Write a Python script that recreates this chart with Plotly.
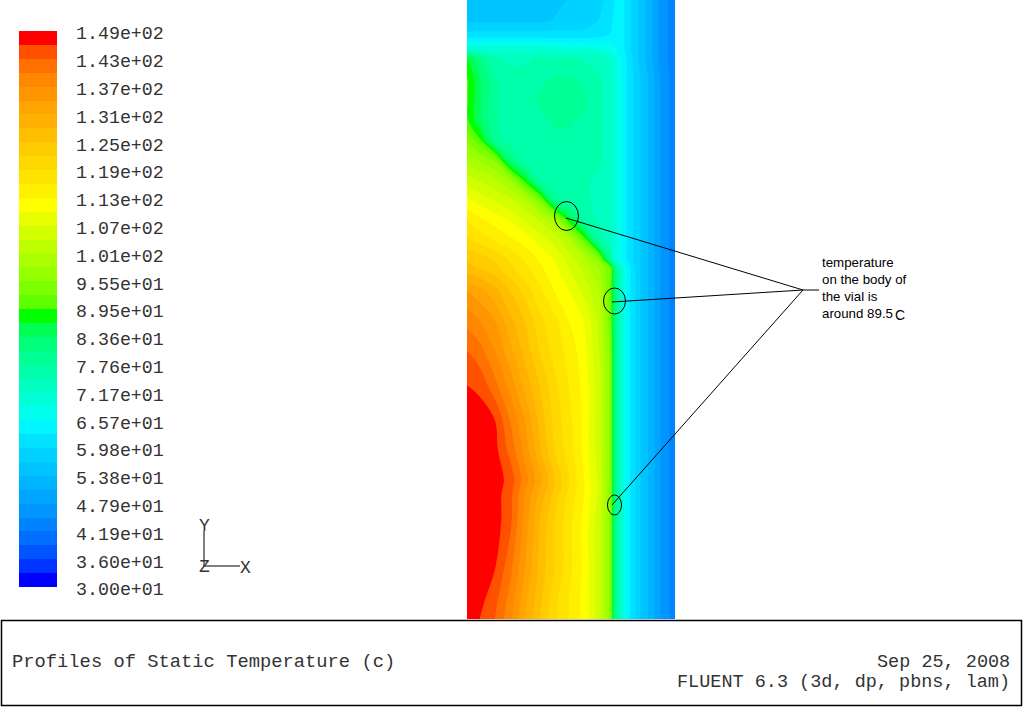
import plotly.graph_objects as go

# Colour bands of the legend, bottom (coolest) to top (hottest)
BAND_COLORS = [
    "#0000ff", "#0033ff", "#0055ff", "#006fff", "#0083ff", "#0095ff", "#00a5ff", "#00b5ff",
    "#00c4ff", "#00d3ff", "#00e2ff", "#00f5ff", "#00ffec", "#00ffd6", "#00ffc0", "#00ffaa",
    "#00ff94", "#00ff7a", "#00ff55", "#00ff00", "#60ff00", "#7cff00", "#96ff00", "#aaff00",
    "#beff00", "#d2ff00", "#e8ff00", "#ffff00", "#fff000", "#ffe400", "#ffd800", "#ffcc00",
    "#ffbe00", "#ffb000", "#ffa400", "#ff9600", "#ff8800", "#ff7000", "#ff5000", "#ff0000",
]
LEGEND_VALUES = [149, 143.05, 137.1, 131.15, 125.2, 119.25, 113.3, 107.35, 101.4, 95.45, 89.5, 83.55,
                 77.6, 71.65, 65.7, 59.75, 53.8, 47.85, 41.9, 35.95, 30.0]
LEGEND_LABELS = ["1.49e+02", "1.43e+02", "1.37e+02", "1.31e+02", "1.25e+02", "1.19e+02", "1.13e+02",
                 "1.07e+02", "1.01e+02", "9.55e+01", "8.95e+01", "8.36e+01", "7.76e+01", "7.17e+01",
                 "6.57e+01", "5.98e+01", "5.38e+01", "4.79e+01", "4.19e+01", "3.60e+01", "3.00e+01"]
T_MIN, T_MAX = 30.0, 149.0

# Temperature field, on a coarse grid
FIELD_X = [467, 480, 495, 510, 525, 540, 555, 570, 585, 600, 611, 613, 620, 628, 640, 650, 660, 675]
FIELD_Y = [0, 20, 35, 42, 50, 58, 80, 100, 120, 140, 160, 180, 200, 220, 240, 260, 268, 290, 320,
           350, 385, 420, 450, 480, 495, 520, 570, 600, 619]
FIELD_T = [
    [55, 55, 55, 55, 56, 56, 56, 57, 58, 59, 61, 62, 65, 61, 56, 52, 47, 43],
    [56, 56, 56, 56, 56, 56, 57, 57, 58, 60, 62, 63, 65, 61, 56, 52, 47, 43],
    [61, 61, 61, 61, 61, 61, 61, 61, 61, 62, 63, 64, 65, 61, 56, 52, 47, 43],
    [66, 66, 66, 66, 66, 66, 65, 65, 65, 65, 65, 65, 65, 61, 56, 52, 47, 43],
    [72, 71, 71, 71, 71, 71, 71, 70, 70, 69, 68, 67, 65, 61, 56, 52, 47, 43],
    [87, 80, 75, 74, 74, 75, 75, 75, 74, 73, 71, 70, 66, 62, 56, 52, 47, 43],
    [90, 84, 78, 76, 76, 77, 78, 78, 77, 75, 72, 71, 67, 62, 57, 53, 48, 43],
    [90, 84, 78, 76, 76, 78, 79, 79, 78, 75, 72, 71, 67, 62, 57, 53, 48, 43],
    [90, 84, 78, 76, 76, 77, 78, 78, 77, 75, 72, 71, 67, 62, 57, 53, 48, 43],
    [95, 90, 79, 76, 75, 76, 77, 77, 76, 75, 72, 71, 67, 62, 57, 53, 48, 43],
    [100, 98, 95, 82, 76, 75, 76, 76, 76, 75, 72, 71, 67, 62, 57, 53, 48, 43],
    [106, 104, 102, 98, 88, 77, 75, 75, 75, 74, 72, 71, 67, 62, 57, 53, 48, 43],
    [111, 109, 107, 105, 102, 94, 79, 75, 75, 74, 72, 71, 67, 62, 57, 53, 48, 43],
    [116, 114, 112, 110, 107, 104, 99, 87, 76, 74, 72, 71, 67, 62, 57, 53, 48, 43],
    [120, 118, 116, 114, 112, 109, 106, 101, 91, 76, 73, 71, 67, 62, 57, 53, 48, 43],
    [125, 124, 122, 119, 116, 113, 110, 106, 102, 95, 79, 71, 67, 62, 57, 53, 48, 43],
    [126, 125, 123, 120, 117, 114, 111, 107, 103, 98, 92, 85, 73, 64, 57, 53, 48, 43],
    [134, 132, 129, 125, 121, 117, 113, 110, 106, 101, 91, 85, 73, 64, 57, 53, 48, 43],
    [139, 137, 134, 129, 125, 120, 117, 113, 110, 103, 92, 85, 73, 64, 57, 53, 48, 43],
    [143, 141, 137, 132, 127, 122, 118, 115, 111, 104, 94, 85, 73, 64, 57, 53, 48, 43],
    [146, 145, 141, 136, 130, 125, 120, 116, 112, 105, 94, 85, 73, 64, 57, 53, 48, 43],
    [149, 148, 146, 140, 134, 127, 121, 117, 112, 105, 94, 85, 73, 64, 57, 53, 48, 43],
    [149, 149, 147, 142, 136, 128.5, 122, 117.5, 112, 105, 94, 85, 73, 64, 57, 53, 48, 43],
    [149, 149, 147.5, 145, 138.5, 132, 125, 119, 113, 106, 94, 85, 73, 64, 57, 53, 48, 43],
    [149, 149, 147.5, 144, 137, 130, 124, 118, 113, 106, 94, 85, 73, 64, 57, 53, 48, 43],
    [149, 149, 147.5, 144, 136, 128, 122, 117, 112, 105, 94, 85, 73, 64, 57, 53, 48, 43],
    [149, 149, 146, 141, 134, 127, 122, 117, 112, 105, 94, 85, 73, 64, 57, 53, 48, 43],
    [149, 147, 144, 139, 132, 126, 120, 116, 112, 105, 94, 85, 73, 64, 57, 53, 48, 43],
    [147, 146, 143, 138, 131, 125, 120, 116, 112, 105, 94, 85, 73, 64, 57, 53, 48, 43],
]

TITLE_LEFT = "Profiles of Static Temperature (c)"
DATE_TEXT = "Sep 25, 2008"
SOLVER_TEXT = "FLUENT 6.3 (3d, dp, pbns, lam)"
NOTE_LINES = ["temperature", "on the body of", "the vial is", "around 89.5"]

W, H = 1023, 707
N = len(BAND_COLORS)
STEP = (T_MAX - T_MIN) / N
BAND_MIDS = [T_MIN + (i + 0.5) * STEP for i in range(N)]

stepped = []
for i, c in enumerate(BAND_COLORS):
    stepped.append([i / N, c])
    stepped.append([(i + 1) / N, c])

MONO = "Liberation Mono"
INK = "#333333"

fig = go.Figure()
fig.add_trace(go.Contour(
    x=FIELD_X, y=FIELD_Y, z=FIELD_T,
    colorscale=stepped, zmin=T_MIN, zmax=T_MAX,
    autocontour=False,
    contours=dict(coloring="fill", start=T_MIN + STEP, end=T_MAX - STEP, size=STEP, showlines=False),
    line=dict(width=0), showscale=False, hoverinfo="skip",
))
fig.add_trace(go.Heatmap(
    x=[0], y=BAND_MIDS, z=[[m] for m in BAND_MIDS],
    colorscale=stepped, zmin=T_MIN, zmax=T_MAX, showscale=False,
    xaxis="x2", yaxis="y2", hoverinfo="skip",
))
# Invisible carrier so the legend label axis draws its labels
fig.add_trace(go.Scatter(
    x=[0] * len(LEGEND_VALUES), y=LEGEND_VALUES, mode="markers", marker=dict(opacity=0),
    xaxis="x2", yaxis="y3", hoverinfo="skip", showlegend=False,
))


def line(x0, y0, x1, y1, w=1.0, color="#000000"):
    return dict(type="line", xref="x", yref="y", x0=x0, y0=y0, x1=x1, y1=y1,
                line=dict(color=color, width=w), layer="above")


def ring(cx, cy, rx, ry):
    return dict(type="circle", xref="x", yref="y", x0=cx - rx, x1=cx + rx, y0=cy - ry, y1=cy + ry,
                line=dict(color="#000000", width=1), layer="above")


def text(x, y, s, size, anchor="left", family=MONO, color=INK):
    return dict(x=x, y=y, xref="x", yref="y", text=s, showarrow=False, xanchor=anchor, yanchor="middle",
                font=dict(family=family, size=size, color=color), align=anchor)


fig.update_layout(
    width=W, height=H, margin=dict(l=0, r=0, t=0, b=0, pad=0),
    paper_bgcolor="white", plot_bgcolor="rgba(0,0,0,0)", showlegend=False,
    xaxis=dict(range=[0, W], visible=False, domain=[0, 1], fixedrange=True, automargin=False),
    yaxis=dict(range=[H, 0], visible=False, domain=[0, 1], fixedrange=True, automargin=False),
    xaxis2=dict(domain=[19 / W, 57 / W], anchor="y2", visible=False, range=[-0.5, 0.5], fixedrange=True,
                automargin=False),
    yaxis2=dict(domain=[(H - 587) / H, (H - 31) / H], anchor="x2", range=[T_MIN, T_MAX], visible=False,
                automargin=False, fixedrange=True),
    yaxis3=dict(domain=[(H - 589) / H, (H - 33) / H], anchor="x2", range=[T_MIN, T_MAX], side="right",
                tickmode="array", tickvals=LEGEND_VALUES, ticktext=LEGEND_LABELS, ticklen=0,
                showgrid=False, zeroline=False, showline=False, ticklabelstandoff=18, automargin=False,
                tickfont=dict(family=MONO, size=18.3, color=INK), fixedrange=True),
    shapes=[
        dict(type="rect", xref="x", yref="y", x0=1.5, x1=1021.5, y0=620.5, y1=705.5,
             line=dict(color="#000000", width=1.5)),
        line(204, 531, 204, 566), line(204, 566, 240, 566),
        ring(566.5, 216, 12, 14.5), ring(614.5, 301, 11, 13), ring(614.5, 505, 7, 10),
        line(566, 218, 803, 290), line(612, 302, 803, 290), line(612, 505, 803, 290),
        line(803, 290, 819, 290),
    ],
    annotations=[
        text(10, 662, TITLE_LEFT, 18.8),
        text(1011.5, 662, DATE_TEXT, 18.5, "right"),
        text(1011.5, 682, SOLVER_TEXT, 18.5, "right"),
        text(204, 526, "Y", 18, "center"),
        text(204, 567, "Z", 18, "center"),
        text(245, 568, "X", 18, "center"),
        text(820, 262, NOTE_LINES[0], 13.3, family="Liberation Sans", color="#000000"),
        text(820, 279, NOTE_LINES[1], 13.3, family="Liberation Sans", color="#000000"),
        text(820, 296, NOTE_LINES[2], 13.3, family="Liberation Sans", color="#000000"),
        text(820, 313, NOTE_LINES[3], 13.3, family="Liberation Sans", color="#000000"),
        text(892.5, 315, "C", 14, family="Liberation Sans", color="#000000"),
    ],
)

fig.write_html("out.html", config=dict(displayModeBar=False),
               post_script="document.body.style.margin='0';document.body.style.overflow='hidden';")
